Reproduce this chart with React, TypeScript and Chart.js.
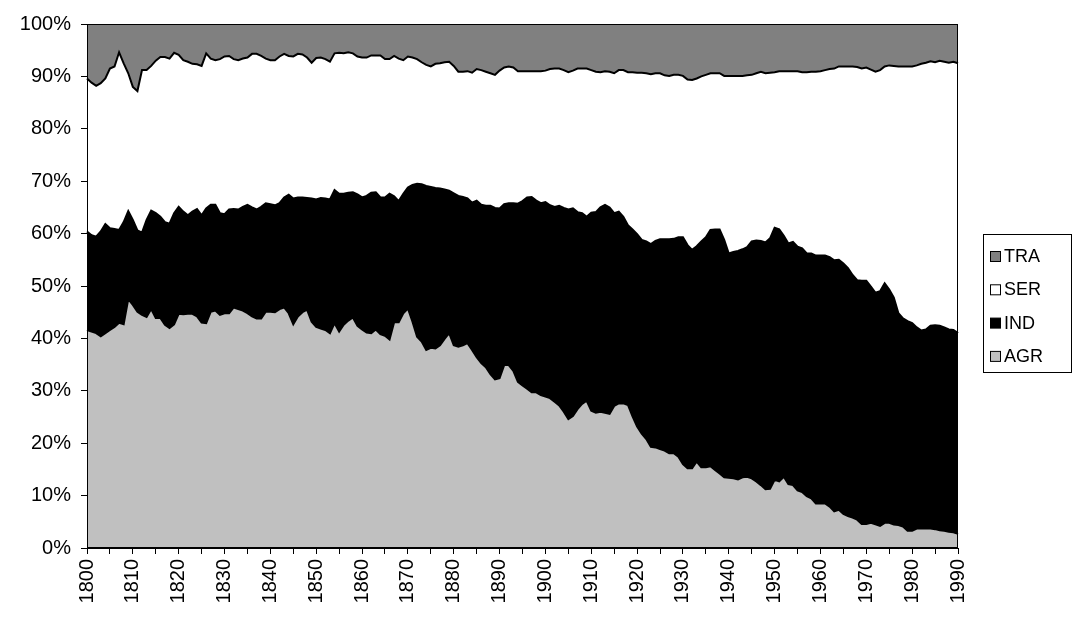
import { useEffect, useRef } from 'react';
import { Chart, registerables } from 'chart.js';

Chart.register(...registerables);

const years: string[] = Array.from({ length: 191 }, (_, i) => String(1800 + i));

const agr = [
  41.6, 41.3, 41.0, 40.4, 41.0, 41.6, 42.2, 43.0, 42.7, 47.5,
  46.4, 45.1, 44.5, 44.1, 45.6, 43.9, 43.9, 42.6, 42.0, 42.7,
  44.7, 44.6, 44.7, 44.7, 44.2, 43.0, 42.9, 45.1, 45.3, 44.5,
  44.8, 44.8, 45.9, 45.6, 45.3, 44.8, 44.2, 43.8, 43.8, 45.1,
  45.1, 45.0, 45.6, 45.9, 44.8, 42.7, 44.2, 45.0, 45.5, 43.2,
  42.2, 41.9, 41.6, 41.0, 42.9, 41.3, 42.6, 43.4, 44.0, 42.4,
  41.7, 41.1, 41.0, 41.7, 40.8, 40.5, 39.8, 43.1, 43.1, 44.8,
  45.7, 43.2, 40.3, 39.4, 37.8, 38.2, 38.1, 38.7, 39.9, 41.0,
  38.7, 38.4, 38.7, 39.1, 37.8, 36.4, 35.3, 34.5, 33.2, 32.2,
  32.4, 34.9, 34.9, 33.8, 31.7, 31.0, 30.4, 29.7, 29.7, 29.2,
  28.9, 28.6, 27.9, 27.2, 26.0, 24.6, 25.2, 26.5, 27.5, 28.1,
  26.2, 25.8, 26.0, 25.8, 25.6, 27.1, 27.6, 27.6, 27.3, 25.1,
  23.2, 21.8, 20.8, 19.3, 19.2, 18.9, 18.6, 18.1, 18.1, 17.4,
  16.0, 15.2, 15.2, 16.5, 15.4, 15.4, 15.6, 14.9, 14.2, 13.5,
  13.4, 13.3, 13.1, 13.5, 13.6, 13.3, 12.7, 12.0, 11.2, 11.3,
  13.0, 12.7, 13.6, 12.2, 12.0, 11.0, 10.7, 9.9, 9.5, 8.5,
  8.5, 8.5, 7.9, 7.0, 7.3, 6.5, 6.1, 5.8, 5.4, 4.6,
  4.6, 4.8, 4.5, 4.2, 4.8, 4.8, 4.5, 4.4, 4.1, 3.3,
  3.3, 3.7, 3.7, 3.7, 3.7, 3.6, 3.4, 3.3, 3.1, 3.0,
  2.7,
];

const ind = [
  18.8, 18.4, 18.4, 20.0, 20.8, 19.4, 18.7, 17.7, 19.5, 16.8,
  16.2, 15.5, 15.7, 18.5, 18.8, 20.0, 19.3, 19.6, 19.9, 21.2,
  20.4, 19.6, 18.8, 19.5, 20.5, 20.5, 21.9, 20.4, 20.2, 19.4,
  18.9, 19.8, 18.8, 19.0, 19.8, 20.7, 20.8, 20.8, 21.3, 20.7,
  20.5, 20.4, 20.2, 21.0, 22.6, 24.0, 22.7, 21.9, 21.3, 23.5,
  24.3, 24.9, 25.1, 25.5, 25.4, 26.3, 25.0, 24.4, 23.9, 25.1,
  25.2, 26.1, 26.8, 26.2, 26.1, 26.4, 27.8, 24.0, 23.1, 22.8,
  23.1, 26.1, 29.2, 30.0, 31.3, 30.7, 30.6, 29.9, 28.5, 27.2,
  29.0, 28.8, 28.3, 27.6, 28.1, 29.9, 30.2, 30.8, 32.1, 32.7,
  32.4, 30.7, 30.9, 32.0, 34.0, 35.2, 36.5, 37.3, 36.6, 36.6,
  37.1, 36.8, 37.2, 38.1, 38.9, 40.0, 39.6, 37.6, 36.4, 35.1,
  37.8, 38.3, 39.0, 39.7, 39.4, 36.8, 36.6, 35.6, 34.3, 35.7,
  36.7, 37.0, 37.7, 38.7, 39.4, 40.0, 40.3, 40.8, 40.9, 41.9,
  43.3, 42.6, 41.7, 41.1, 43.1, 43.9, 45.1, 45.9, 46.6, 45.3,
  42.8, 43.2, 43.6, 43.5, 43.8, 45.2, 46.0, 46.6, 47.1, 47.8,
  48.1, 48.1, 46.0, 45.9, 46.4, 46.5, 46.5, 46.3, 46.7, 47.3,
  47.3, 47.3, 47.6, 47.9, 47.7, 47.8, 47.3, 46.3, 45.7, 46.4,
  46.4, 45.1, 44.2, 44.8, 45.7, 44.5, 43.3, 40.4, 39.7, 40.0,
  39.6, 38.4, 37.8, 38.0, 38.7, 38.9, 39.0, 38.8, 38.6, 38.6,
  38.3,
];

const ser = [
  29.2, 29.1, 28.8, 28.3, 27.8, 30.5, 31.0, 33.9, 30.3, 26.3,
  25.4, 26.6, 31.0, 28.6, 27.6, 29.1, 30.5, 31.5, 31.5, 30.6,
  29.0, 28.9, 29.3, 28.2, 27.6, 28.5, 29.6, 27.9, 27.6, 29.4,
  30.1, 29.3, 28.6, 28.5, 28.3, 28.1, 29.3, 29.7, 28.8, 27.6,
  27.5, 27.7, 28.0, 27.4, 26.5, 27.1, 27.4, 27.3, 26.8, 25.9,
  27.0, 26.8, 26.6, 26.3, 26.1, 26.9, 26.8, 26.8, 26.5, 26.3,
  26.7, 26.4, 26.2, 26.1, 27.1, 26.4, 25.7, 26.8, 27.2, 25.5,
  25.0, 24.3, 23.8, 23.3, 23.1, 23.0, 23.7, 23.9, 24.3, 24.6,
  24.3, 23.7, 23.9, 24.3, 24.8, 25.1, 25.7, 25.6, 25.3, 25.4,
  26.3, 26.1, 26.1, 25.9, 25.3, 24.8, 24.1, 24.0, 24.7, 25.2,
  25.1, 26.0, 26.4, 26.2, 26.3, 26.2, 26.3, 27.4, 27.6, 28.3,
  27.2, 26.8, 25.8, 25.5, 25.9, 26.7, 27.0, 28.0, 29.2, 30.0,
  30.8, 31.9, 32.1, 32.4, 32.0, 31.7, 31.3, 31.2, 31.3, 31.0,
  30.8, 31.6, 32.4, 32.0, 31.5, 31.0, 29.9, 29.8, 29.8, 31.3,
  33.9, 33.6, 33.4, 33.1, 32.8, 31.8, 31.9, 32.3, 32.3, 31.6,
  29.7, 30.2, 31.4, 32.9, 32.6, 33.5, 33.6, 34.6, 34.7, 35.1,
  35.2, 35.4, 35.9, 36.6, 36.9, 37.6, 38.5, 39.8, 40.7, 40.5,
  40.7, 41.4, 42.2, 42.2, 41.4, 42.8, 44.2, 47.1, 48.1, 48.6,
  49.0, 50.0, 50.9, 50.9, 50.5, 50.2, 50.6, 50.7, 50.9, 51.2,
  51.5,
];

const tra = [
  10.4, 11.2, 11.8, 11.3, 10.4, 8.5, 8.1, 5.4, 7.5, 9.4,
  12.0, 12.8, 8.8, 8.8, 8.0, 7.0, 6.3, 6.3, 6.6, 5.5,
  5.9, 6.9, 7.2, 7.6, 7.7, 8.0, 5.6, 6.6, 6.9, 6.7,
  6.2, 6.1, 6.7, 6.9, 6.6, 6.4, 5.7, 5.7, 6.1, 6.6,
  6.9, 6.9, 6.2, 5.7, 6.1, 6.2, 5.7, 5.8, 6.4, 7.4,
  6.5, 6.4, 6.7, 7.2, 5.6, 5.5, 5.6, 5.4, 5.6, 6.2,
  6.4, 6.4, 6.0, 6.0, 6.0, 6.7, 6.7, 6.1, 6.6, 6.9,
  6.2, 6.4, 6.7, 7.3, 7.8, 8.1, 7.6, 7.5, 7.3, 7.2,
  8.0, 9.1, 9.1, 9.0, 9.3, 8.6, 8.8, 9.1, 9.4, 9.7,
  8.9, 8.3, 8.1, 8.3, 9.0, 9.0, 9.0, 9.0, 9.0, 9.0,
  8.9, 8.6, 8.5, 8.5, 8.8, 9.2, 8.9, 8.5, 8.5, 8.5,
  8.8, 9.1, 9.2, 9.0, 9.1, 9.4, 8.8, 8.8, 9.2, 9.2,
  9.3, 9.3, 9.4, 9.6, 9.4, 9.4, 9.8, 9.9, 9.7, 9.7,
  9.9, 10.6, 10.7, 10.4, 10.0, 9.7, 9.4, 9.4, 9.4, 9.9,
  9.9, 9.9, 9.9, 9.9, 9.8, 9.7, 9.4, 9.1, 9.4, 9.3,
  9.2, 9.0, 9.0, 9.0, 9.0, 9.0, 9.2, 9.2, 9.1, 9.1,
  9.0, 8.8, 8.6, 8.5, 8.1, 8.1, 8.1, 8.1, 8.2, 8.5,
  8.3, 8.7, 9.1, 8.8, 8.1, 7.9, 8.0, 8.1, 8.1, 8.1,
  8.1, 7.9, 7.6, 7.4, 7.1, 7.3, 7.0, 7.2, 7.4, 7.2,
  7.5,
];

const seriesNames = ['AGR', 'IND', 'SER', 'TRA'];
const seriesColors = ['#C0C0C0', '#000000', '#FFFFFF', '#808080'];
const yTickValues = [0, 10, 20, 30, 40, 50, 60, 70, 80, 90, 100];

const FONT = '"Liberation Sans", Arial, sans-serif';

const framePlugin = {
  id: 'frame',
  afterDatasetsDraw(chart: any) {
    const { ctx, chartArea: a } = chart;
    ctx.save();
    ctx.strokeStyle = '#000';
    ctx.lineWidth = 1;
    ctx.strokeRect(a.left + 0.5, a.top + 0.5, a.right - a.left - 1, a.bottom - a.top - 1);
    ctx.restore();
  },
};

const legendPlugin = {
  id: 'boxLegend',
  afterDraw(chart: any) {
    const { ctx, chartArea: a } = chart;
    const ds = chart.data.datasets.slice().reverse();
    const left = a.right + 25;
    const top = 234;
    const w = 88;
    const spacing = 33.3;
    const h = 138;
    ctx.save();
    ctx.strokeStyle = '#000';
    ctx.lineWidth = 1;
    ctx.fillStyle = '#fff';
    ctx.fillRect(left + 0.5, top + 0.5, w, h);
    ctx.strokeRect(left + 0.5, top + 0.5, w, h);
    ctx.font = `18px ${FONT}`;
    ctx.textBaseline = 'middle';
    ds.forEach((d: any, i: number) => {
      const cy = top + 22 + i * spacing;
      const bx = left + 7;
      ctx.fillStyle = d.backgroundColor;
      ctx.fillRect(bx + 0.5, cy - 5 + 0.5, 10, 10);
      ctx.strokeStyle = '#000';
      ctx.strokeRect(bx + 0.5, cy - 5 + 0.5, 10, 10);
      ctx.fillStyle = '#000';
      ctx.fillText(d.label, bx + 14, cy + 1);
    });
    ctx.restore();
  },
};

export default function App() {
  const ref = useRef<HTMLCanvasElement | null>(null);

  useEffect(() => {
    if (!ref.current) return;
    Chart.defaults.font.family = FONT;
    Chart.defaults.color = '#000';
    const values = [agr, ind, ser, tra];
    const chart = new Chart(ref.current, {
      type: 'line',
      data: {
        labels: years,
        datasets: seriesNames.map((name, i) => ({
          label: name,
          data: values[i],
          backgroundColor: seriesColors[i],
          borderColor: '#000000',
          borderWidth: 2,
          pointRadius: 0,
          tension: 0,
          fill: i === 0 ? 'origin' : '-1',
        })),
      },
      options: {
        responsive: false,
        animation: false,
        layout: { padding: { left: 0, top: 24, right: 130, bottom: 0 } },
        plugins: {
          legend: { display: false },
          tooltip: { enabled: false },
        },
        scales: {
          x: {
            type: 'category',
            offset: false,
            grid: {
              drawOnChartArea: false,
              tickLength: 6,
              color: (c: any) => (c.index % 5 === 0 ? '#000' : 'rgba(0,0,0,0)'),
            },
            border: { color: '#000', width: 1 },
            ticks: {
              autoSkip: false,
              minRotation: 90,
              maxRotation: 90,
              padding: 5,
              color: '#000',
              font: { size: 20, family: FONT },
              callback: (_v: any, i: number) => (i % 10 === 0 ? years[i] : ''),
            },
            afterFit: (s: any) => {
              s.height = 69;
            },
          },
          y: {
            stacked: true,
            min: 0,
            max: 100,
            afterBuildTicks: (s: any) => {
              s.ticks = yTickValues.map((v) => ({ value: v }));
            },
            grid: { drawOnChartArea: false, tickLength: 6, color: '#000' },
            border: { color: '#000', width: 1 },
            ticks: {
              padding: 10,
              color: '#000',
              font: { size: 20, family: FONT },
              callback: (v: any) => `${v}%`,
            },
            afterFit: (s: any) => {
              s.width = 87;
            },
          },
        },
      },
      plugins: [framePlugin, legendPlugin],
    });
    return () => chart.destroy();
  }, []);

  return (
    <div style={{ position: 'absolute', left: 0, top: 0, width: 1088, height: 617, background: '#fff' }}>
      <canvas ref={ref} width={1088} height={617} style={{ display: 'block' }} />
    </div>
  );
}
